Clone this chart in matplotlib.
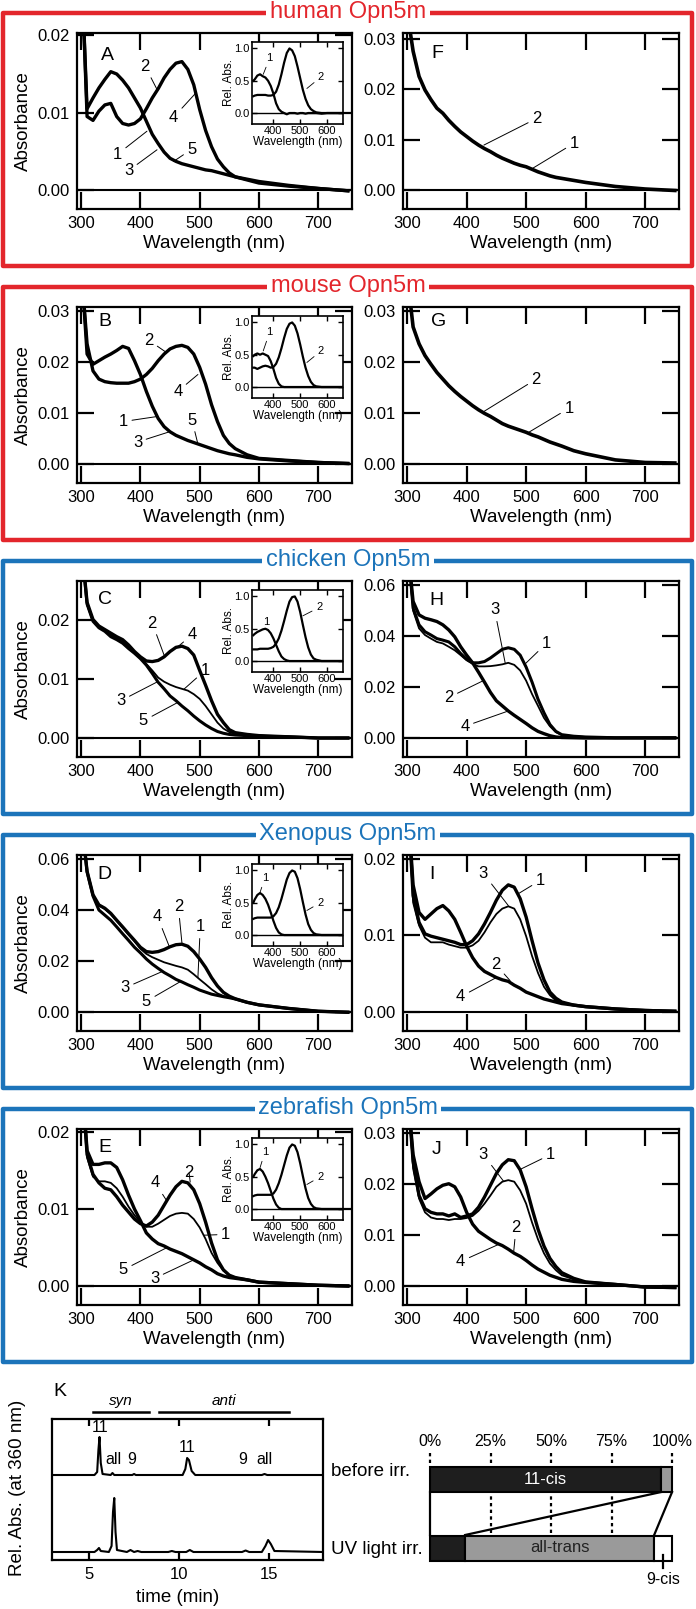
import matplotlib
matplotlib.use("Agg")
import matplotlib.pyplot as plt
from matplotlib.patches import Rectangle

W, H = 696, 1609
plt.rcParams["font.family"] = ["Liberation Sans", "DejaVu Sans"]

# ---------------- data ----------------
WL = [303, 310, 320, 330, 340, 350, 360, 370, 380, 390, 400, 410, 420, 430, 440, 450,
      460, 470, 480, 490, 500, 510, 520, 530, 540, 550, 560, 580, 600, 650, 700, 750]

A_dark = [0.024, 0.0095, 0.009, 0.0102, 0.011, 0.0112, 0.0095, 0.0086, 0.0084, 0.0086, 0.0092, 0.0105,
          0.0119, 0.0131, 0.0145, 0.0156, 0.0164, 0.0166, 0.0156, 0.0136, 0.0104, 0.0077, 0.0056, 0.004,
          0.003, 0.0022, 0.0017, 0.0013, 0.0009, 0.0005, 0.0002, -0.0001]
A_uv = [0.024, 0.0105, 0.0119, 0.0132, 0.0143, 0.0153, 0.015, 0.0142, 0.0132, 0.0119, 0.0106, 0.0089,
        0.0072, 0.006, 0.0049, 0.0041, 0.0037, 0.0034, 0.0032, 0.003, 0.0028, 0.0026, 0.0025, 0.0023,
        0.0021, 0.0019, 0.0017, 0.0014, 0.0011, 0.0006, 0.0002, -0.0001]
F_all = [0.033, 0.0275, 0.0225, 0.0198, 0.0179, 0.0162, 0.0152, 0.0138, 0.0126, 0.0115, 0.0106, 0.0097,
         0.0089, 0.0082, 0.0076, 0.0069, 0.0063, 0.0058, 0.0053, 0.0049, 0.0046, 0.0041, 0.0036, 0.0032,
         0.0028, 0.0025, 0.0023, 0.0019, 0.0015, 0.0007, 0.0002, -0.0001]

B_dark = [0.034, 0.0235, 0.0182, 0.0166, 0.0161, 0.0159, 0.0158, 0.0158, 0.0158, 0.0161, 0.0166, 0.0175,
          0.0187, 0.0202, 0.0215, 0.0225, 0.023, 0.0232, 0.0228, 0.0215, 0.0189, 0.0156, 0.0116, 0.0083,
          0.0056, 0.004, 0.003, 0.0018, 0.0011, 0.0007, 0.0003, 0.0001]
B_uv = [0.034, 0.0215, 0.0195, 0.0202, 0.0209, 0.0215, 0.0222, 0.023, 0.0226, 0.0202, 0.0175, 0.0142,
        0.0113, 0.0089, 0.0073, 0.0063, 0.0056, 0.0051, 0.0046, 0.0042, 0.0038, 0.0034, 0.003, 0.0026,
        0.0023, 0.002, 0.0018, 0.0013, 0.001, 0.0006, 0.0003, 0.0001]
G_all = [0.034, 0.0268, 0.0235, 0.0212, 0.0195, 0.0179, 0.0166, 0.0153, 0.0142, 0.0132, 0.0123, 0.0114,
         0.0106, 0.0099, 0.0093, 0.0086, 0.0079, 0.0074, 0.007, 0.0066, 0.0062, 0.0057, 0.0053, 0.0048,
         0.0043, 0.0039, 0.0035, 0.0026, 0.002, 0.0008, 0.0003, 0.0002]

C_top = [0.03, 0.0229, 0.02, 0.0189, 0.0183, 0.0177, 0.0171, 0.0166, 0.0157, 0.0146, 0.0137, 0.013,
         0.0129, 0.0131, 0.0137, 0.0146, 0.0153, 0.0155, 0.0151, 0.014, 0.0114, 0.0089, 0.0063, 0.004,
         0.0026, 0.0014, 0.0009, 0.0006, 0.0004, 0.0002, 0.0, 0.0]
C_mid = [0.03, 0.0225, 0.0198, 0.0187, 0.0181, 0.0174, 0.0168, 0.0162, 0.0153, 0.0143, 0.0134, 0.0125,
         0.0114, 0.0102, 0.0095, 0.009, 0.0086, 0.0083, 0.008, 0.0074, 0.0066, 0.0054, 0.004, 0.0026,
         0.0016, 0.001, 0.0007, 0.0006, 0.0004, 0.0002, 0.0, 0.0]
C_low = [0.03, 0.0226, 0.0197, 0.0186, 0.018, 0.0171, 0.0166, 0.016, 0.0151, 0.0143, 0.0134, 0.0123,
         0.0109, 0.0094, 0.0083, 0.0071, 0.0063, 0.0054, 0.0046, 0.0037, 0.0029, 0.0022, 0.0016, 0.0011,
         0.0008, 0.0006, 0.0005, 0.0004, 0.0003, 0.0002, 0.0, 0.0]
H_dec = [0.07, 0.0536, 0.0483, 0.047, 0.0464, 0.0457, 0.0444, 0.0424, 0.0397, 0.0358, 0.0325, 0.0295,
         0.0258, 0.0219, 0.0179, 0.0146, 0.0126, 0.0106, 0.0089, 0.0073, 0.0057, 0.004, 0.0026, 0.0017,
         0.0009, 0.0004, 0.0002, 0.0001, 0.0, 0.0, 0.0, 0.0]
H_one = [0.07, 0.051, 0.0444, 0.0417, 0.0404, 0.039, 0.0384, 0.0377, 0.0358, 0.0331, 0.0309, 0.0295,
         0.0295, 0.03, 0.0314, 0.0331, 0.0348, 0.0354, 0.0348, 0.0325, 0.0278, 0.0219, 0.0152, 0.0099,
         0.0053, 0.0026, 0.0013, 0.0007, 0.0004, 0.0001, 0.0001, 0.0001]
H_three = [0.07, 0.05, 0.043, 0.0404, 0.039, 0.0377, 0.0371, 0.0358, 0.0344, 0.0325, 0.0305, 0.0291,
           0.0281, 0.0281, 0.0282, 0.0285, 0.0289, 0.0295, 0.0287, 0.0265, 0.0225, 0.0172, 0.0126, 0.0079,
           0.0046, 0.0023, 0.0012, 0.0007, 0.0004, 0.0001, 0.0001, 0.0001]

D_top = [0.07, 0.0552, 0.046, 0.042, 0.0407, 0.0387, 0.036, 0.0334, 0.0307, 0.0281, 0.0254, 0.0237,
         0.0234, 0.0237, 0.0245, 0.0256, 0.0264, 0.0266, 0.0258, 0.0237, 0.0208, 0.0175, 0.0135, 0.0102,
         0.0077, 0.0062, 0.0052, 0.0038, 0.0028, 0.0014, 0.0003, -0.0001]
D_mid = [0.07, 0.0552, 0.046, 0.0418, 0.0404, 0.0384, 0.0357, 0.0331, 0.0304, 0.0278, 0.0248, 0.0228,
         0.0215, 0.0205, 0.0195, 0.0188, 0.0181, 0.0175, 0.0166, 0.0148, 0.0128, 0.0109, 0.0089, 0.0073,
         0.0063, 0.0057, 0.0051, 0.0038, 0.0028, 0.0014, 0.0003, -0.0001]
D_low = [0.07, 0.055, 0.0455, 0.04, 0.038, 0.036, 0.0334, 0.0307, 0.0281, 0.0254, 0.0232, 0.0208,
         0.0188, 0.0171, 0.0155, 0.0142, 0.0128, 0.0118, 0.0107, 0.0097, 0.0086, 0.0078, 0.007, 0.0065,
         0.006, 0.0056, 0.0051, 0.0038, 0.0028, 0.0014, 0.0003, -0.0001]
I_one = [0.025, 0.0152, 0.0117, 0.0102, 0.0099, 0.0097, 0.0095, 0.0093, 0.0091, 0.0088, 0.0088, 0.0093,
         0.0102, 0.0115, 0.013, 0.0146, 0.0159, 0.0166, 0.0163, 0.0148, 0.0124, 0.0093, 0.0064, 0.0042,
         0.0026, 0.0018, 0.0013, 0.0009, 0.0007, 0.0004, 0.0002, 0.0001]
I_three = [0.025, 0.0143, 0.0113, 0.0097, 0.0091, 0.0091, 0.0091, 0.0088, 0.0086, 0.0084, 0.0084, 0.0087,
           0.0093, 0.0104, 0.0117, 0.0128, 0.0135, 0.0138, 0.0135, 0.0121, 0.0099, 0.0073, 0.0051, 0.0033,
           0.0022, 0.0015, 0.0012, 0.0009, 0.0007, 0.0004, 0.0002, 0.0001]
I_dec = [0.025, 0.0166, 0.013, 0.0121, 0.0128, 0.0135, 0.0139, 0.0132, 0.0121, 0.0104, 0.0086, 0.0071,
         0.006, 0.0053, 0.0049, 0.0045, 0.0042, 0.004, 0.0035, 0.0031, 0.0026, 0.0023, 0.002, 0.0017,
         0.0015, 0.0013, 0.0011, 0.0009, 0.0007, 0.0004, 0.0002, 0.0001]

E_top = [0.025, 0.0171, 0.0145, 0.0134, 0.0127, 0.0125, 0.0116, 0.0105, 0.0096, 0.0087, 0.0081, 0.0078,
         0.0083, 0.0092, 0.0105, 0.0118, 0.0129, 0.0136, 0.0134, 0.0125, 0.0107, 0.0083, 0.0056, 0.0034,
         0.0021, 0.0014, 0.0011, 0.0008, 0.0005, 0.0003, 0.0001, 0.0]
E_mid = [0.025, 0.0167, 0.0142, 0.0136, 0.0136, 0.0134, 0.0127, 0.0116, 0.0103, 0.0092, 0.0083, 0.0077,
         0.0077, 0.0081, 0.0086, 0.0091, 0.0094, 0.0095, 0.0094, 0.0087, 0.0076, 0.0061, 0.0043, 0.003,
         0.002, 0.0014, 0.0011, 0.0008, 0.0005, 0.0003, 0.0001, 0.0]
E_low = [0.025, 0.0176, 0.0158, 0.0158, 0.016, 0.016, 0.0154, 0.0138, 0.0118, 0.01, 0.0085, 0.0069,
         0.0061, 0.0055, 0.0052, 0.0048, 0.0045, 0.0042, 0.0038, 0.0034, 0.003, 0.0025, 0.0021, 0.0016,
         0.0013, 0.0011, 0.001, 0.0008, 0.0005, 0.0003, 0.0001, 0.0]
J_one = [0.035, 0.0244, 0.0177, 0.0151, 0.0144, 0.0141, 0.0141, 0.0137, 0.0141, 0.0134, 0.0137, 0.0141,
         0.0154, 0.0174, 0.0197, 0.022, 0.0237, 0.0247, 0.0245, 0.0227, 0.0194, 0.0151, 0.0111, 0.0078,
         0.0054, 0.0038, 0.0026, 0.0015, 0.0008, 0.0003, -0.0002, -0.0003]
J_three = [0.035, 0.023, 0.0171, 0.0144, 0.0134, 0.0131, 0.0131, 0.0129, 0.0131, 0.0131, 0.0133, 0.0137,
           0.0147, 0.0161, 0.0177, 0.0194, 0.0204, 0.0207, 0.0204, 0.0187, 0.0161, 0.0124, 0.0091, 0.0064,
           0.0044, 0.0031, 0.0021, 0.0013, 0.0008, 0.0003, -0.0002, -0.0003]
J_dec = [0.035, 0.0257, 0.0204, 0.0171, 0.018, 0.019, 0.0197, 0.02, 0.0194, 0.0174, 0.0144, 0.0121,
         0.0107, 0.0099, 0.0091, 0.0084, 0.0079, 0.0072, 0.0064, 0.0058, 0.005, 0.0041, 0.0033, 0.0027,
         0.0021, 0.0017, 0.0013, 0.0009, 0.0007, 0.0003, -0.0002, -0.0003]

# insets: normalized spectra
INS_WL = [325, 330, 340, 350, 360, 370, 380, 390, 400, 410, 420, 430, 440, 450, 460, 470, 480,
          490, 500, 510, 520, 530, 540, 550, 560, 580, 600, 630, 660]
insA_1 = [0.5, 0.52, 0.58, 0.6, 0.57, 0.55, 0.5, 0.42, 0.3, 0.15, 0.06, 0.02, 0.0, -0.02, 0.0, 0.0, 0.0,
          -0.01, 0.0, 0.0, -0.01, 0.0, 0.0, 0.0, 0.0, -0.01, 0.0, 0.0, 0.0]
insA_2 = [0.26, 0.27, 0.28, 0.28, 0.28, 0.28, 0.27, 0.27, 0.28, 0.33, 0.44, 0.6, 0.78, 0.93, 1.0, 0.97,
          0.88, 0.72, 0.54, 0.36, 0.22, 0.12, 0.06, 0.03, 0.01, 0.0, 0.0, 0.0, 0.0]
insB_1 = [0.48, 0.5, 0.52, 0.5, 0.52, 0.5, 0.48, 0.4, 0.28, 0.14, 0.05, 0.01, 0.0, 0.0, 0.0, 0.0, 0.0,
          0.0, 0.0, 0.0, 0.0, 0.0, 0.0, 0.0, 0.0, 0.0, 0.0, 0.0, 0.0]
insB_2 = [0.3, 0.3, 0.28, 0.3, 0.32, 0.33, 0.32, 0.3, 0.31, 0.36, 0.46, 0.6, 0.76, 0.9, 0.98, 1.0, 0.95,
          0.83, 0.66, 0.47, 0.3, 0.17, 0.08, 0.03, 0.01, 0.0, 0.0, 0.0, 0.0]
insC_1 = [0.4, 0.42, 0.45, 0.47, 0.49, 0.5, 0.48, 0.43, 0.35, 0.25, 0.15, 0.07, 0.03, 0.01, 0.0, 0.0,
          0.0, 0.0, 0.0, 0.0, 0.0, 0.0, 0.0, 0.0, 0.0, 0.0, 0.0, 0.0, 0.0]
insC_2 = [0.18, 0.18, 0.18, 0.19, 0.19, 0.19, 0.19, 0.2, 0.22, 0.27, 0.35, 0.47, 0.62, 0.78, 0.92, 0.99,
          1.0, 0.92, 0.76, 0.56, 0.37, 0.21, 0.1, 0.04, 0.02, 0.0, 0.0, 0.0, 0.0]
insD_1 = [0.5, 0.55, 0.62, 0.65, 0.62, 0.56, 0.47, 0.35, 0.22, 0.11, 0.04, 0.01, 0.0, 0.0, 0.0, 0.0,
          0.0, 0.0, 0.0, 0.0, 0.0, 0.0, 0.0, 0.0, 0.0, 0.0, 0.0, 0.0, 0.0]
insD_2 = [0.25, 0.26, 0.27, 0.27, 0.27, 0.27, 0.27, 0.27, 0.29, 0.34, 0.43, 0.56, 0.71, 0.86, 0.96, 1.0,
          0.98, 0.88, 0.71, 0.51, 0.32, 0.17, 0.08, 0.03, 0.01, 0.0, 0.0, 0.0, 0.0]
insE_1 = [0.5, 0.54, 0.6, 0.62, 0.58, 0.5, 0.4, 0.28, 0.16, 0.07, 0.02, 0.0, 0.0, 0.0, 0.0, 0.0,
          0.0, 0.0, 0.0, 0.0, 0.0, 0.0, 0.0, 0.0, 0.0, 0.0, 0.0, 0.0, 0.0]
insE_2 = [0.2, 0.21, 0.22, 0.22, 0.22, 0.22, 0.22, 0.22, 0.24, 0.3, 0.4, 0.53, 0.68, 0.83, 0.95, 1.0,
          0.98, 0.88, 0.71, 0.51, 0.32, 0.17, 0.08, 0.03, 0.01, 0.0, 0.0, 0.0, 0.0]

# HPLC traces (panel K)
K_T_BEFORE = [2.94, 5.3, 5.45, 5.52, 5.58, 5.65, 5.75, 6.2, 6.3, 6.4, 7.4, 7.5, 7.6,
              10.2, 10.35, 10.45, 10.55, 10.7, 10.9, 14.6, 14.75, 14.9, 18.0]
K_Y_BEFORE = [0, 0, 3, 25, 38, 12, 1, 0, 2, 0, 0, 1, 0, 0, 6, 17, 15, 4, 0, 0, 1, 0, 0]
K_T_UV = [2.94, 5.3, 5.45, 5.55, 5.65, 6.1, 6.25, 6.33, 6.4, 6.47, 6.55, 7.1, 7.3, 7.5, 7.7, 7.9,
          9.4, 9.6, 9.8, 10.4, 10.6, 10.8, 13.5, 13.7, 13.9, 14.6, 14.8, 14.95, 15.1, 15.3, 18.0]
K_Y_UV = [0, 0, 2, 4, 1, 0, 6, 40, 54, 20, 2, 0, 2, 0, 1, 0, 0, 1, 0, 0, 2, 0, 0, 1.5, 0, 0, 6, 12,
          8, 1, 0]
ISOMERS = ["11-cis", "all-trans", "9-cis"]
BEFORE_PCT = [95.5, 4.5, 0.0]
UV_PCT = [14.5, 78.1, 7.4]
PCT_TICKS = [0, 25, 50, 75, 100]

RED = "#e3262c"
BLUE = "#1c74ba"
BOXES = [("human Opn5m", RED), ("mouse Opn5m", RED), ("chicken Opn5m", BLUE),
         ("Xenopus Opn5m", BLUE), ("zebrafish Opn5m", BLUE)]

# ---------------- figure ----------------
fig = plt.figure(figsize=(W / 100, H / 100), dpi=100)


def rect(x0, y0, x1, y1):
    return [x0 / W, 1 - y1 / H, (x1 - x0) / W, (y1 - y0) / H]


def ftext(x, y, s, **kw):
    fig.text(x / W, 1 - y / H, s, **kw)


PITCH = 274
for i, (name, col) in enumerate(BOXES):
    top, bot = 13 + PITCH * i, 266 + PITCH * i
    fig.add_artist(Rectangle((3 / W, 1 - bot / H), 689 / W, (bot - top) / H, transform=fig.transFigure,
                             fill=False, ec=col, lw=3.2, joinstyle="round"))
    ftext(348, top - 1, name, color=col, fontsize=17, ha="center", va="center",
          bbox=dict(fc="white", ec="none", pad=2.5))


def spectrum(ax, top, yticks, curves, labels, letter, ylabel):
    for y, lw in curves:
        ax.plot(WL, y, color="k", lw=lw, solid_joinstyle="round")
    ax.axhline(0, color="k", lw=1.5)
    ax.set_xlim(293, 757)
    ax.set_ylim(-top * 19 / 157, top)
    ax.set_xticks([300, 400, 500, 600, 700])
    ax.set_yticks(yticks)
    ax.set_yticklabels(["%.2f" % v for v in yticks])
    ax.tick_params(direction="in", length=12, width=1.6, top=True, right=True, labelsize=12, pad=5)
    for s in ax.spines.values():
        s.set_linewidth(1.6)
    ax.set_xlabel("Wavelength (nm)", fontsize=13.5, labelpad=3)
    if ylabel:
        ax.set_ylabel("Absorbance", fontsize=13.5, labelpad=4)
    for s, tx, ty, ex, ey in labels:
        ax.annotate(s, xy=(ex, ey), xytext=(tx, ty), fontsize=12, ha="center", va="center",
                    arrowprops=dict(arrowstyle="-", lw=0.7, shrinkA=1, shrinkB=0))
    ax.text(letter[1], letter[2], letter[0], fontsize=14, ha="center", va="center")


def inset(ax, c1, c2, lab1, lab2):
    ax.plot(INS_WL, c1, color="k", lw=1.6)
    ax.plot(INS_WL, c2, color="k", lw=1.6)
    ax.axhline(0, color="k", lw=1)
    ax.set_xlim(320, 660)
    ax.set_ylim(-0.17, 1.1)
    ax.set_xticks([400, 500, 600])
    ax.set_yticks([0, 0.5, 1.0])
    ax.set_yticklabels(["0.0", "0.5", "1.0"])
    ax.tick_params(direction="in", length=3.5, width=1, top=True, right=True, labelsize=8, pad=1.5)
    for s in ax.spines.values():
        s.set_linewidth(1.2)
    ax.set_xlabel("Wavelength (nm)", fontsize=8.5, labelpad=0)
    ax.set_ylabel("Rel. Abs.", fontsize=8.5, labelpad=0)
    for s, (tx, ty, ex, ey) in (("1", lab1), ("2", lab2)):
        ax.annotate(s, xy=(ex, ey), xytext=(tx, ty), fontsize=8, ha="center", va="center",
                    arrowprops=dict(arrowstyle="-", lw=0.6, shrinkA=1, shrinkB=0))


LEFT = (77, 352)
RIGHT = (403, 679)


def row_axes(i):
    t, b = 33 + PITCH * i, 209 + PITCH * i
    axl = fig.add_axes(rect(LEFT[0], t, LEFT[1], b))
    axr = fig.add_axes(rect(RIGHT[0], t, RIGHT[1], b))
    axi = fig.add_axes(rect(252, t + 9, 343, t + 91))
    return axl, axr, axi


# row 1: human
axl, axr, axi = row_axes(0)
spectrum(axl, 0.0203, [0, 0.01, 0.02], [(A_dark, 2.4), (A_uv, 2.4)],
         [("2", 408, 0.016, 428, 0.013), ("4", 456, 0.0094, 493, 0.0125), ("1", 361, 0.0046, 411, 0.0076),
          ("3", 380, 0.0025, 428, 0.0052), ("5", 487, 0.0053, 456, 0.0037)], ("A", 344, 0.0174), True)
spectrum(axr, 0.0311, [0, 0.01, 0.02, 0.03], [(F_all, 2.6)],
         [("2", 518, 0.0142, 429, 0.0089), ("1", 581, 0.0093, 511, 0.0043)], ("F", 350, 0.027), False)
inset(axi, insA_1, insA_2, (386, 0.85, 362, 0.6), (578, 0.56, 525, 0.38))

# row 2: mouse
axl, axr, axi = row_axes(1)
spectrum(axl, 0.0307, [0, 0.01, 0.02, 0.03], [(B_dark, 2.4), (B_uv, 2.4)],
         [("2", 414, 0.0242, 444, 0.0218), ("4", 463, 0.0142, 497, 0.0175), ("1", 371, 0.0083, 429, 0.0093),
          ("3", 395, 0.0043, 449, 0.0063), ("5", 487, 0.0086, 497, 0.0039)], ("B", 340, 0.0278), True)
spectrum(axr, 0.0307, [0, 0.01, 0.02, 0.03], [(G_all, 2.6)],
         [("2", 517, 0.0166, 428, 0.0102), ("1", 572, 0.0109, 503, 0.0061)], ("G", 353, 0.0278), False)
inset(axi, insB_1, insB_2, (386, 0.85, 362, 0.56), (578, 0.56, 525, 0.38))

# row 3: chicken
axl, axr, axi = row_axes(2)
spectrum(axl, 0.0265, [0, 0.01, 0.02], [(C_top, 2.4), (C_mid, 1.3), (C_low, 2.2)],
         [("2", 420, 0.0194, 441, 0.0137), ("4", 487, 0.0174, 463, 0.0154), ("1", 509, 0.0114, 473, 0.0082),
          ("3", 367, 0.0063, 429, 0.0095), ("5", 405, 0.0029, 463, 0.006)], ("C", 340, 0.0234), True)
spectrum(axr, 0.0616, [0, 0.02, 0.04, 0.06], [(H_dec, 2.4), (H_one, 2.2), (H_three, 1.3)],
         [("3", 447, 0.0503, 465, 0.0292), ("1", 534, 0.0371, 498, 0.029), ("2", 370, 0.0159, 428, 0.0225),
          ("4", 397, 0.0046, 470, 0.0106)], ("H", 349, 0.054), False)
inset(axi, insC_1, insC_2, (372, 0.6, 386, 0.45), (571, 0.83, 510, 0.7))

# row 4: Xenopus
axl, axr, axi = row_axes(3)
spectrum(axl, 0.0616, [0, 0.02, 0.04, 0.06], [(D_top, 2.4), (D_mid, 1.3), (D_low, 2.2)],
         [("4", 429, 0.0373, 449, 0.0255), ("2", 464, 0.0413, 470, 0.0272), ("1", 501, 0.0334, 497, 0.0135),
          ("3", 374, 0.0095, 436, 0.0158), ("5", 410, 0.0042, 468, 0.012)], ("D", 340, 0.054), True)
spectrum(axr, 0.0205, [0, 0.01, 0.02], [(I_one, 2.4), (I_three, 1.3), (I_dec, 2.4)],
         [("3", 428, 0.0181, 470, 0.0139), ("1", 524, 0.0172, 488, 0.0155), ("2", 449, 0.0062, 473, 0.0041),
          ("4", 390, 0.002, 450, 0.0045)], ("I", 342, 0.0179), False)
inset(axi, insD_1, insD_2, (368, 0.88, 350, 0.66), (575, 0.5, 525, 0.38))

# row 5: zebrafish
axl, axr, axi = row_axes(4)
spectrum(axl, 0.0204, [0, 0.01, 0.02], [(E_top, 2.4), (E_mid, 1.3), (E_low, 2.4)],
         [("4", 425, 0.0134, 445, 0.011), ("2", 482, 0.0148, 484, 0.0135), ("1", 544, 0.0067, 507, 0.0066),
          ("5", 371, 0.0021, 445, 0.005), ("3", 424, 0.001, 490, 0.0034)], ("E", 340, 0.018), True)
spectrum(axr, 0.0307, [0, 0.01, 0.02, 0.03], [(J_one, 2.4), (J_three, 1.3), (J_dec, 2.4)],
         [("3", 428, 0.0257, 462, 0.0205), ("1", 541, 0.0257, 490, 0.0228), ("2", 483, 0.0114, 479, 0.0066),
          ("4", 390, 0.0048, 455, 0.0082)], ("J", 349, 0.0267), False)
inset(axi, insE_1, insE_2, (368, 0.88, 350, 0.64), (575, 0.5, 525, 0.38))

# ---------------- panel K: HPLC ----------------
axk = fig.add_axes(rect(52, 1419, 323, 1560))
axk.plot(K_T_BEFORE, [v + 85 for v in K_Y_BEFORE], color="k", lw=1.5)
axk.plot(K_T_UV, [v + 8 for v in K_Y_UV], color="k", lw=1.5)
axk.set_xlim(2.94, 18.0)
axk.set_ylim(0, 141)
axk.set_xticks([5, 10, 15])
axk.set_yticks([])
axk.tick_params(direction="in", length=5, width=1.6, top=True, labelsize=12, pad=5)
for s in axk.spines.values():
    s.set_linewidth(1.6)
axk.plot([5.22, 8.33], [148, 148], color="k", lw=1.8, clip_on=False)
axk.plot([8.9, 16.1], [148, 148], color="k", lw=1.8, clip_on=False)
axk.text(6.78, 159, "syn", style="italic", fontsize=11, ha="center", va="center")
axk.text(12.5, 159, "anti", style="italic", fontsize=11, ha="center", va="center")
for s, t, y in [("11", 5.61, 132), ("all", 6.33, 100), ("9", 7.39, 100), ("11", 10.44, 113),
                ("9", 13.56, 100), ("all", 14.72, 100)]:
    axk.text(t, y, s, fontsize=11.5, ha="center", va="center")
ftext(60, 1392, "K", fontsize=14, ha="center", va="center")
ftext(18, 1488, "Rel. Abs. (at 360 nm)", fontsize=13.5, rotation=90, ha="center", va="center")
ftext(178, 1597, "time (min)", fontsize=13.5, ha="center", va="center")
ftext(331, 1472, "before irr.", fontsize=13.5, ha="left", va="center")
ftext(331, 1550, "UV light irr.", fontsize=13.5, ha="left", va="center")

# ---------------- panel K: isomer composition ----------------
axb = fig.add_axes(rect(420, 1430, 690, 1595))
axb.set_xlim(-4.13, 107.4)
axb.set_ylim(0, 165)
axb.axis("off")
colors = ["#1e1e1e", "#9a9a9a", "white"]
for pct, yc in ((BEFORE_PCT, 115.5), (UV_PCT, 47)):
    left = 0
    for p, c in zip(pct, colors):
        if p > 0:
            axb.barh(yc, p, left=left, height=25, color=c, edgecolor="k", lw=1.5)
        left += p
for p in PCT_TICKS:
    axb.plot([p, p], [132, 142], color="k", lw=1.6, ls=(0, (1.5, 1.5)))
    axb.text(p, 153, "%d%%" % p, fontsize=11.5, ha="center", va="center")
for p in PCT_TICKS[1:4]:
    axb.plot([p, p], [62, 102], color="k", lw=1.6, ls=(0, (1.5, 1.5)))
axb.plot([BEFORE_PCT[0], UV_PCT[0]], [103, 60], color="k", lw=1.6)
axb.plot([100, UV_PCT[0] + UV_PCT[1]], [103, 60], color="k", lw=1.6)
axb.plot([0, 0], [60, 103], color="k", lw=1.6)
axb.text(BEFORE_PCT[0] / 2, 115.5, ISOMERS[0], color="white", fontsize=12, ha="center", va="center")
axb.text(UV_PCT[0] + UV_PCT[1] / 2, 47, ISOMERS[1], color="#222222", fontsize=12, ha="center", va="center")
x9 = UV_PCT[0] + UV_PCT[1] + UV_PCT[2] / 2
axb.plot([x9, x9], [40, 27], color="k", lw=1.6)
axb.text(x9, 16, ISOMERS[2], fontsize=11.5, ha="center", va="center")

fig.savefig("out.png", dpi=100)
